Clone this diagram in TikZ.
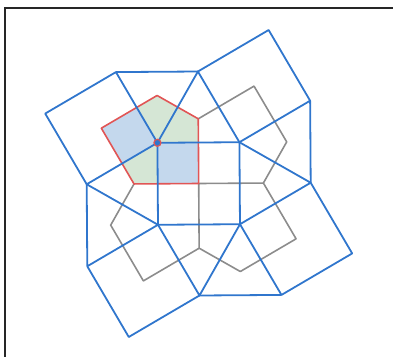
\documentclass[tikz,border=0pt]{standalone}
\usetikzlibrary{calc}
\definecolor{tileblue}{RGB}{48,118,205}
\definecolor{fillblue}{RGB}{196,216,237}
\definecolor{fillgreen}{RGB}{213,230,213}
\definecolor{pentred}{RGB}{225,85,85}
\definecolor{dualgrey}{RGB}{140,140,140}
\tikzset{
  tile/.style={draw=tileblue,line width=1.8pt,line join=round},
  dual/.style={draw=dualgrey,line width=1.6pt,line join=round},
  pent/.style={draw=pentred,line width=1.6pt,line join=round},
  frameline/.style={draw=black!85,line width=1.6pt},
}
\begin{document}
\begin{tikzpicture}[x=1pt,y=-1pt]
\useasboundingbox (0,0) rectangle (393,356);
\draw[frameline] (5,357) -- (5,8) -- (394,8);
\begin{scope}[shift={(198.7,183.5)},x=82pt,y=82pt,rotate=0.4]
% snub square tiling vertices
\coordinate (A) at (-0.5,0.5);
\coordinate (B) at (0.5,0.5);
\coordinate (C) at (0.5,-0.5);
\coordinate (D) at (-0.5,-0.5);
\coordinate (T) at (0,1.366);
\coordinate (R) at (1.366,0);
\coordinate (Bo) at (0,-1.366);
\coordinate (L) at (-1.366,0);
\coordinate (Q0) at (1.366,1);
\coordinate (P0) at (0.866,1.866);
\coordinate (Q1) at (1,-1.366);
\coordinate (P1) at (1.866,-0.866);
\coordinate (Q2) at (-1.366,-1);
\coordinate (P2) at (-0.866,-1.866);
\coordinate (Q3) at (-1,1.366);
\coordinate (P3) at (-1.866,0.866);
% dual (Cairo) vertices
\coordinate (O) at (0,0);
\coordinate (Tt) at (0,0.789);
\coordinate (Tr) at (0.789,0);
\coordinate (Tb) at (0,-0.789);
\coordinate (Tl) at (-0.789,0);
\coordinate (U0) at (-0.5,1.077);
\coordinate (U1) at (1.077,0.5);
\coordinate (U2) at (0.5,-1.077);
\coordinate (U3) at (-1.077,-0.5);
\coordinate (S0) at (-1.183,0.683);
\coordinate (S1) at (0.683,1.183);
\coordinate (S2) at (1.183,-0.683);
\coordinate (S3) at (-0.683,-1.183);
% edge midpoints around A
\coordinate (mAB) at (0,0.5);
\coordinate (mAT) at (-0.25,0.933);
\coordinate (mAX) at (-0.75,0.933);
\coordinate (mAL) at (-0.933,0.25);
\coordinate (mAD) at (-0.5,0);
% fills
\fill[fillblue] (A) -- (mAB) -- (O) -- (mAD) -- cycle;
\fill[fillblue] (A) -- (mAX) -- (S0) -- (mAL) -- cycle;
\fill[fillgreen] (A) -- (mAB) -- (Tt) -- (mAT) -- cycle;
\fill[fillgreen] (A) -- (mAT) -- (U0) -- (mAX) -- cycle;
\fill[fillgreen] (A) -- (mAL) -- (Tl) -- (mAD) -- cycle;
% dual grey edges
\draw[dual] (O) -- (Tr) (O) -- (Tb);
\draw[dual] (Tt) -- (S1) -- (U1) -- (Tr) -- (S2) -- (U2) -- (Tb) -- (S3) -- (U3) -- (Tl);
% red pentagon
\draw[pent] (U0) -- (Tt) -- (O) -- (Tl) -- (S0) -- cycle;
% blue tiling
\draw[tile] (A) -- (B) (B) -- (C) (C) -- (D) (D) -- (A);
\draw[tile] (A) -- (T) -- (B) -- (R) -- (C) -- (Bo) -- (D) -- (L) -- cycle;
\draw[tile] (T) -- (P0) -- (Q0) -- (B) (Q0) -- (R);
\draw[tile] (R) -- (P1) -- (Q1) -- (C) (Q1) -- (Bo);
\draw[tile] (Bo) -- (P2) -- (Q2) -- (D) (Q2) -- (L);
\draw[tile] (L) -- (P3) -- (Q3) -- (A) (Q3) -- (T);
% marked vertex
\node[circle,draw=pentred,fill=tileblue,line width=1.2pt,inner sep=0pt,minimum size=7pt] (mark) at (A) {};
\end{scope}
\end{tikzpicture}
\end{document}
